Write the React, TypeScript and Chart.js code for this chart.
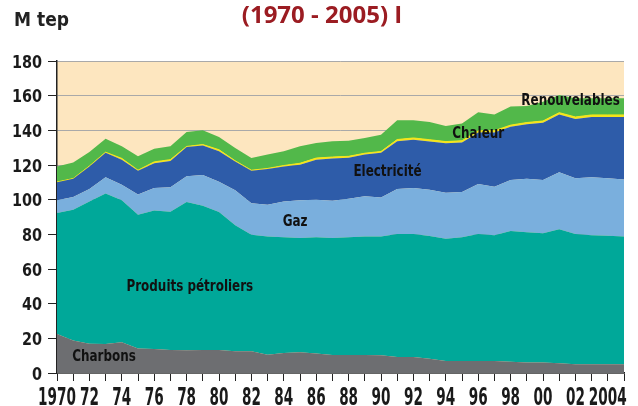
import React, { useEffect, useRef } from "react";
import { Chart, registerables } from "chart.js";

Chart.register(...registerables);

const years = Array.from({ length: 36 }, (_, i) => String(1970 + i));
const xTickLabels = [
  "1970", "", "72", "", "74", "", "76", "", "78", "", "80", "", "82", "", "84", "", "86", "", "88", "",
  "90", "", "92", "", "94", "", "96", "", "98", "", "00", "", "02", "", "2004", "",
];

const charbons = [22.5, 18.8, 16.9, 16.7, 17.7, 14.2, 13.8, 13.3, 13.1, 13.3, 13.3, 12.5, 12.5, 10.6, 11.5, 11.9, 11.2, 10.4, 10.4, 10.4, 10.2, 9.2, 9.2, 8.2, 6.9, 6.9, 6.9, 6.9, 6.5, 6.0, 6.0, 5.6, 5.0, 5.0, 5.0, 5.0];
const petrole = [69.8, 75.4, 82.1, 86.8, 81.9, 77.1, 80.0, 79.7, 85.5, 83.2, 79.6, 72.7, 67.3, 68.2, 66.8, 66.0, 67.1, 67.5, 67.9, 68.4, 68.6, 71.0, 71.0, 70.9, 70.6, 71.4, 73.3, 72.5, 75.4, 75.2, 74.6, 77.3, 75.2, 74.4, 74.2, 73.7];
const gaz = [7.3, 7.3, 7.2, 9.5, 9.0, 11.7, 12.9, 14.1, 14.9, 17.7, 17.5, 20.2, 18.2, 18.2, 20.7, 21.7, 21.7, 21.5, 22.3, 23.2, 22.5, 26.0, 26.5, 26.6, 26.5, 26.1, 28.8, 28.1, 29.4, 30.8, 30.7, 32.9, 32.1, 33.5, 33.1, 33.0];
const electricite = [10.4, 10.5, 13.0, 14.0, 14.4, 13.7, 14.3, 15.2, 16.9, 17.1, 17.6, 16.6, 18.7, 20.7, 20.2, 20.6, 23.0, 24.4, 23.6, 24.0, 25.7, 27.5, 27.9, 27.9, 28.5, 28.6, 29.7, 31.3, 30.7, 31.5, 33.1, 33.4, 34.2, 34.8, 35.4, 36.0];
const chaleur = [0.2, 0.2, 0.2, 0.4, 0.8, 0.3, 0.8, 0.8, 0.3, 0.5, 0.8, 0.4, 0.3, 0.3, 0.5, 0.8, 1.0, 0.8, 0.8, 0.8, 0.8, 1.0, 1.0, 1.0, 1.0, 1.0, 1.0, 1.0, 1.0, 1.0, 1.0, 1.0, 1.2, 1.2, 1.2, 1.2];
const renouvelables = [9.0, 9.3, 8.1, 7.8, 7.0, 8.0, 7.6, 7.7, 8.3, 8.2, 7.4, 7.4, 7.0, 8.0, 8.2, 9.8, 8.7, 9.1, 9.0, 8.8, 9.7, 11.1, 10.2, 10.2, 9.0, 10.0, 10.7, 9.4, 10.7, 9.5, 11.1, 10.2, 10.8, 9.6, 9.6, 9.6];

const seriesNames = ["Charbons", "Produits pétroliers", "Gaz", "Electricité", "Chaleur", "Renouvelables"];
const seriesColors = ["#6d6e71", "#00a899", "#7aafdd", "#2e5ca9", "#f4e51a", "#52b84a"];

// label anchors in data space: [year index, value]
const labelTexts = ["Charbons", "Produits pétroliers", "Gaz", "Electricité", "Chaleur", "Renouvelables"];
const labelX = [2.9, 8.2, 14.7, 20.4, 26.0, 31.7];
const labelY = [9.2, 49.6, 87, 116, 138, 157];

const yTicks = [0, 20, 40, 60, 80, 100, 120, 140, 160, 180];

const FONT = "'DejaVu Sans Condensed', 'DejaVu Sans', sans-serif";

function drawScaled(ctx: CanvasRenderingContext2D, text: string, x: number, y: number, sx: number, align: CanvasTextAlign) {
  ctx.save();
  ctx.translate(x, y);
  ctx.scale(sx, 1);
  ctx.textAlign = align;
  ctx.fillText(text, 0, 0);
  ctx.restore();
}

export default function App() {
  const ref = useRef<HTMLCanvasElement>(null);
  useEffect(() => {
    document.body.style.margin = "0";
    const canvas = ref.current!;
    const data = [charbons, petrole, gaz, electricite, chaleur, renouvelables];
    const bgPlugin = {
      id: "bg",
      beforeDraw(chart: any) {
        const { ctx, chartArea: a } = chart;
        ctx.save();
        ctx.fillStyle = "#fde6bf";
        ctx.fillRect(a.left, a.top, a.right - a.left, a.bottom - a.top);
        ctx.restore();
      },
      afterDraw(chart: any) {
        const { ctx } = chart;
        const xs = chart.scales.x;
        const ys = chart.scales.y;
        ctx.save();
        ctx.textBaseline = "middle";
        ctx.fillStyle = "#111";
        ctx.font = `bold 16px ${FONT}`;
        labelTexts.forEach((t, i) => {
          drawScaled(ctx, t, xs.getPixelForValue(labelX[i]), ys.getPixelForValue(labelY[i]), 0.83, "center");
        });
        // axis tick labels (condensed)
        ctx.textBaseline = "alphabetic";
        ctx.fillStyle = "#1a1a1a";
        ctx.font = `bold 24px ${FONT}`;
        xTickLabels.forEach((t, i) => {
          if (t) drawScaled(ctx, t, xs.getPixelForValue(i), 405, 0.63, "center");
        });
        ctx.font = `bold 18px ${FONT}`;
        yTicks.forEach((v) => {
          drawScaled(ctx, String(v), 42, ys.getPixelForValue(v) + 6.5, 0.89, "right");
        });
        ctx.textAlign = "left";
        ctx.font = `bold 19px ${FONT}`;
        ctx.textBaseline = "middle";
        ctx.fillStyle = "#222";
        ctx.fillText("M tep", 14, 21);
        ctx.textAlign = "center";
        ctx.font = `bold 24px 'Open Sans', sans-serif`;
        ctx.fillStyle = "#9b1c22";
        ctx.fillText("(1970 - 2005) I", 322, 16);
        ctx.restore();
      },
    };
    const chart = new Chart(canvas, {
      type: "line",
      data: {
        labels: years,
        datasets: data.map((d, i) => ({
          label: seriesNames[i],
          data: d,
          backgroundColor: seriesColors[i],
          borderColor: seriesColors[i],
          borderWidth: i === 4 ? 1 : 0,
          pointRadius: 0,
          fill: i === 0 ? "origin" : "-1",
          tension: 0,
        })),
      },
      options: {
        animation: false,
        responsive: false,
        devicePixelRatio: 1,
        layout: { padding: { top: 61, right: 14, left: 0, bottom: 0 } },
        plugins: { legend: { display: false }, tooltip: { enabled: false }, title: { display: false } },
        scales: {
          x: {
            type: "category",
            offset: false,
            grid: { drawOnChartArea: false, tickLength: 8, tickColor: "#222", offset: false },
            border: { display: true, color: "#222", width: 1.5 },
            ticks: {
              autoSkip: false,
              maxRotation: 0,
              minRotation: 0,
              color: "rgba(0,0,0,0)",
              font: { family: FONT, size: 12 },
              callback: (_v: any, idx: number) => xTickLabels[idx],
            },
            afterFit: (s: any) => { s.height = 33; },
          },
          y: {
            stacked: true,
            min: 0,
            max: 180,
            afterBuildTicks: (s: any) => { s.ticks = yTicks.map((v) => ({ value: v })); },
            grid: { color: "#a9a9a9", tickLength: 9, tickColor: "#222", lineWidth: 1 },
            border: { display: true, color: "#222", width: 1.5 },
            ticks: {
              color: "rgba(0,0,0,0)",
              font: { family: FONT, size: 12 },
            },
            afterFit: (s: any) => { s.width = 57; },
          },
        },
      },
      plugins: [bgPlugin],
    });
    return () => chart.destroy();
  }, []);
  return (
    <div style={{ width: 638, height: 406, position: "relative", background: "#fff" }}>
      <canvas ref={ref} width={638} height={406} style={{ display: "block" }} />
    </div>
  );
}
